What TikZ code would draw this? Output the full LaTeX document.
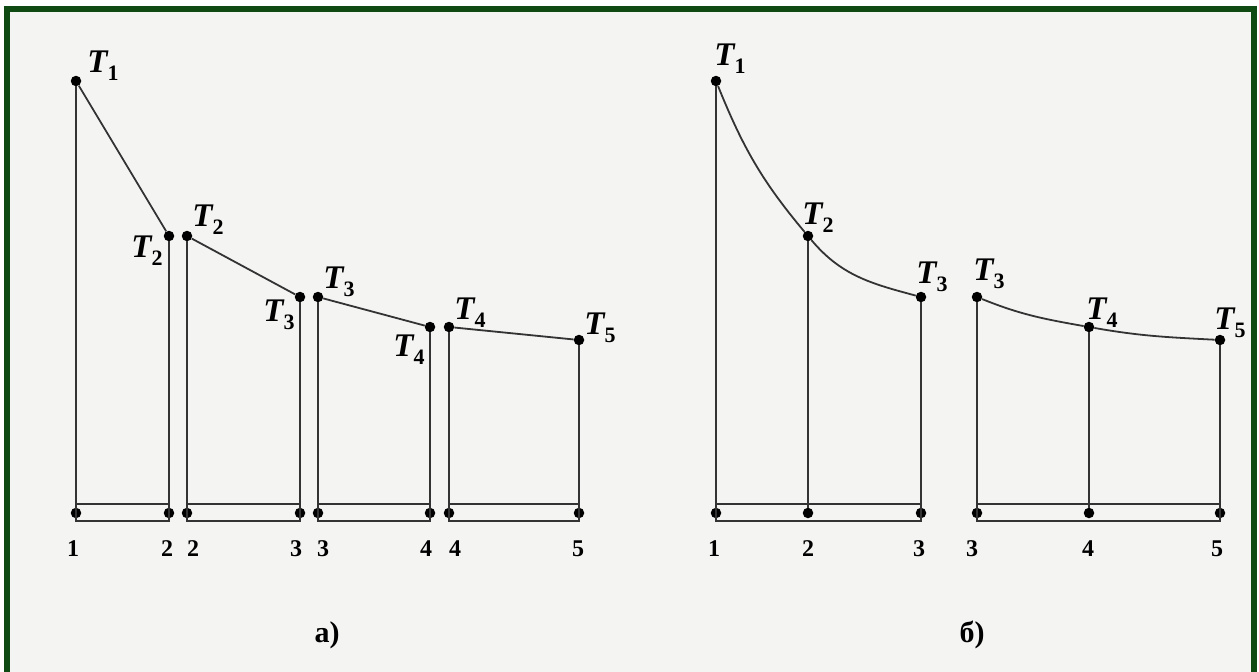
\documentclass[tikz,border=0pt]{standalone}
\usepackage{fontspec}
\setmainfont{Liberation Serif}
\usetikzlibrary{positioning}
\definecolor{frame}{HTML}{0F4A12}
\definecolor{paper}{HTML}{F4F5F3}
\newcommand{\Tsub}[1]{\textit{T}\kern-1pt\raisebox{-8pt}{\fontsize{22}{22}\selectfont\upshape#1}}

\begin{document}
\begin{tikzpicture}[x=1pt,y=-1pt,
  pt/.style={circle,fill=black,inner sep=0pt,minimum size=10.5pt},
  ln/.style={line width=1.8pt,draw=black!80},
  tl/.style={font=\fontsize{33}{33}\selectfont\bfseries,inner sep=0pt},
  nl/.style={font=\fontsize{24}{24}\selectfont\bfseries,inner sep=0pt},
  capt/.style={font=\fontsize{30}{30}\selectfont\bfseries,inner sep=0pt}]
  \useasboundingbox (0,0) rectangle (1259,672);
  % frame
  \fill[white] (0,0) rectangle (1259,672);
  \fill[paper] (10,12) rectangle (1251,672);
  \draw[frame,line width=6pt] (7,680) -- (7,9) -- (1254,9) -- (1254,680);

  % a) stepwise
  \node[pt] (a1) at (76,81) {};
  \node[pt] (a2) at (169,236) {};
  \node[pt] (a2r) at (187,236) {};
  \node[pt] (a3) at (300,297) {};
  \node[pt] (a3r) at (318,297) {};
  \node[pt] (a4) at (430,327) {};
  \node[pt] (a4r) at (449,327) {};
  \node[pt] (a5) at (579,340) {};
  \node[pt] (a1b) at (76,513) {};
  \node[pt] (a2b) at (169,513) {};
  \node[pt] (a2rb) at (187,513) {};
  \node[pt] (a3b) at (300,513) {};
  \node[pt] (a3rb) at (318,513) {};
  \node[pt] (a4b) at (430,513) {};
  \node[pt] (a4rb) at (449,513) {};
  \node[pt] (a5b) at (579,513) {};

  \draw[ln] (a1) -- (a1b);
  \draw[ln] (a2) -- (a2b);
  \draw[ln] (a2r) -- (a2rb);
  \draw[ln] (a3) -- (a3b);
  \draw[ln] (a3r) -- (a3rb);
  \draw[ln] (a4) -- (a4b);
  \draw[ln] (a4r) -- (a4rb);
  \draw[ln] (a5) -- (a5b);
  \draw[ln] (a1) -- (a2);
  \draw[ln] (a2r) -- (a3);
  \draw[ln] (a3r) -- (a4);
  \draw[ln] (a4r) -- (a5);
  \draw[ln] ([yshift=9pt]a1b.center) rectangle ([yshift=-8pt]a2b.center);
  \draw[ln] ([yshift=9pt]a2rb.center) rectangle ([yshift=-8pt]a3b.center);
  \draw[ln] ([yshift=9pt]a3rb.center) rectangle ([yshift=-8pt]a4b.center);
  \draw[ln] ([yshift=9pt]a4rb.center) rectangle ([yshift=-8pt]a5b.center);

  \node[tl] (a1t) at ([shift={(27,-15)}]a1) {\Tsub{1}};
  \node[tl] (a2t) at ([shift={(-22,15)}]a2) {\Tsub{2}};
  \node[tl] (a2rt) at ([shift={(21,-16)}]a2r) {\Tsub{2}};
  \node[tl] (a3t) at ([shift={(-21,18)}]a3) {\Tsub{3}};
  \node[tl] (a3rt) at ([shift={(21,-15)}]a3r) {\Tsub{3}};
  \node[tl] (a4t) at ([shift={(-21,23)}]a4) {\Tsub{4}};
  \node[tl] (a4rt) at ([shift={(21,-14)}]a4r) {\Tsub{4}};
  \node[tl] (a5t) at ([shift={(21,-12)}]a5) {\Tsub{5}};

  \node[nl] (a1n) at ([shift={(-3,36)}]a1b) {1};
  \node[nl] (a2n) at ([shift={(-2,36)}]a2b) {2};
  \node[nl] (a2rn) at ([shift={(6,36)}]a2rb) {2};
  \node[nl] (a3n) at ([shift={(-4,36)}]a3b) {3};
  \node[nl] (a3rn) at ([shift={(5,36)}]a3rb) {3};
  \node[nl] (a4n) at ([shift={(-4,36)}]a4b) {4};
  \node[nl] (a4rn) at ([shift={(6,36)}]a4rb) {4};
  \node[nl] (a5n) at ([shift={(-1,36)}]a5b) {5};
  \node[capt] (capa) at (327,635) {а)};

  % b) continuous
  \node[pt] (b1) at (716,81) {};
  \node[pt] (b2) at (808,236) {};
  \node[pt] (b3) at (921,297) {};
  \node[pt] (b3r) at (977,297) {};
  \node[pt] (b4) at (1089,327) {};
  \node[pt] (b5) at (1220,340) {};
  \node[pt] (b1b) at (716,513) {};
  \node[pt] (b2b) at (808,513) {};
  \node[pt] (b3b) at (921,513) {};
  \node[pt] (b3rb) at (977,513) {};
  \node[pt] (b4b) at (1089,513) {};
  \node[pt] (b5b) at (1220,513) {};

  \draw[ln] (b1) -- (b1b);
  \draw[ln] (b2) -- (b2b);
  \draw[ln] (b3) -- (b3b);
  \draw[ln] (b3r) -- (b3rb);
  \draw[ln] (b4) -- (b4b);
  \draw[ln] (b5) -- (b5b);
  \draw[ln] (b1) to[out=-68,in=130] (b2) to[out=-50,in=165] (b3);
  \draw[ln] (b3r) to[out=-22,in=170] (b4) to[out=-10,in=177] (b5);
  \draw[ln] ([yshift=9pt]b1b.center) rectangle ([yshift=-8pt]b3b.center);
  \draw[ln] ([yshift=9pt]b3rb.center) rectangle ([yshift=-8pt]b5b.center);

  \node[tl] (b1t) at ([shift={(14,-22)}]b1) {\Tsub{1}};
  \node[tl] (b2t) at ([shift={(10,-18)}]b2) {\Tsub{2}};
  \node[tl] (b3t) at ([shift={(11,-20)}]b3) {\Tsub{3}};
  \node[tl] (b3rt) at ([shift={(12,-23)}]b3r) {\Tsub{3}};
  \node[tl] (b4t) at ([shift={(13,-14)}]b4) {\Tsub{4}};
  \node[tl] (b5t) at ([shift={(10,-17)}]b5) {\Tsub{5}};

  \node[nl] (b1n) at ([shift={(-2,36)}]b1b) {1};
  \node[nl] (b2n) at ([shift={(0,36)}]b2b) {2};
  \node[nl] (b3n) at ([shift={(-2,36)}]b3b) {3};
  \node[nl] (b3rn) at ([shift={(-5,36)}]b3rb) {3};
  \node[nl] (b4n) at ([shift={(-1,36)}]b4b) {4};
  \node[nl] (b5n) at ([shift={(-3,36)}]b5b) {5};
  \node[capt] (capb) at (972,635) {б)};
\end{tikzpicture}
\end{document}
